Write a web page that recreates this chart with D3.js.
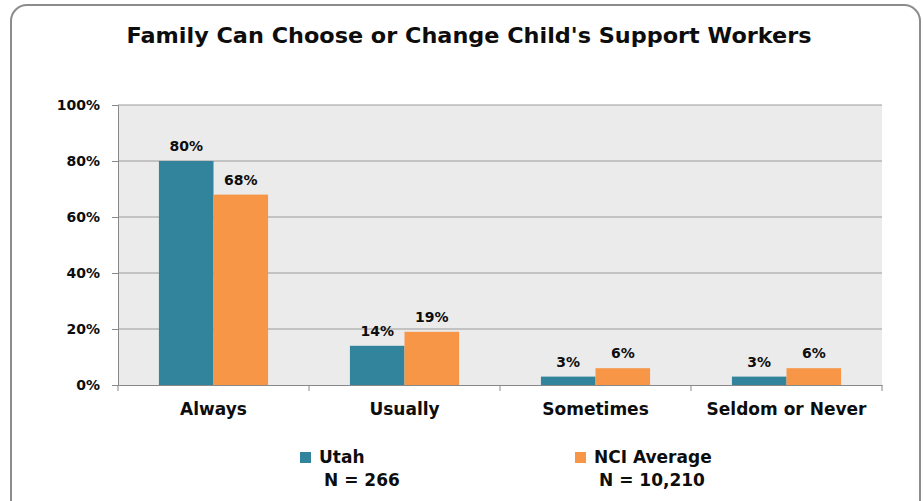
<!DOCTYPE html>
<html><head><meta charset="utf-8">
<script src="https://cdn.jsdelivr.net/npm/d3@7"></script>
<style>body{margin:0;background:#fff}svg{display:block}</style>
</head><body>
<script>
const categories = ["Always", "Usually", "Sometimes", "Seldom or Never"];
const seriesNames = ["Utah", "NCI Average"];
const seriesN = ["N = 266", "N = 10,210"];
const utah = [80, 14, 3, 3];
const nci = [68, 19, 6, 6];
const yTicks = [0, 20, 40, 60, 80, 100];
const colors = ["#31849B", "#F79646"];
const title = "Family Can Choose or Change Child's Support Workers";

(function () {
const W = 923, H = 501;
const font = "'DejaVu Sans', sans-serif";
const ink = "#0d0d0d";
const svg = d3.select("body").append("svg").attr("width", W).attr("height", H);

svg.append("rect").attr("x", 11).attr("y", 5).attr("width", 909).attr("height", 520)
  .attr("rx", 16).attr("fill", "#fff").attr("stroke", "#8c8c8c").attr("stroke-width", 2);

svg.append("text").attr("x", 469).attr("y", 43).attr("text-anchor", "middle")
  .attr("font-family", font).attr("font-weight", "bold").attr("font-size", 21)
  .attr("textLength", 685).attr("lengthAdjust", "spacingAndGlyphs")
  .attr("fill", ink).text(title);

const mL = 118, mR = 882, mT = 105, mB = 385;
const x = d3.scaleBand().domain(categories).range([mL, mR]).paddingInner(0).paddingOuter(0);
const inner = d3.scaleBand().domain(seriesNames).range([0, x.bandwidth()]).paddingOuter(0.75).paddingInner(0);
const y = d3.scaleLinear().domain([0, 100]).range([mB, mT]);

svg.append("rect").attr("x", mL).attr("y", mT).attr("width", mR - mL).attr("height", mB - mT).attr("fill", "#ebebeb");

svg.append("g").selectAll("line").data(yTicks.filter(d => d > 0)).join("line")
  .attr("x1", mL).attr("x2", mR).attr("y1", d => y(d)).attr("y2", d => y(d))
  .attr("stroke", "#9a9a9a").attr("stroke-width", 1);

const yAxis = svg.append("g").attr("transform", `translate(${mL},0)`)
  .call(d3.axisLeft(y).tickValues(yTicks).tickFormat(d => d + "%").tickSize(6).tickPadding(12));
yAxis.select(".domain").attr("stroke", "#888");
yAxis.selectAll(".tick line").attr("stroke", "#888");
yAxis.selectAll("text").attr("font-family", font).attr("font-weight", "bold").attr("font-size", 14).attr("fill", ink);

const xAxis = svg.append("g").attr("transform", `translate(0,${mB})`)
  .call(d3.axisBottom(x).tickSize(0).tickPadding(18));
xAxis.select(".domain").attr("stroke", "#888");
xAxis.selectAll("text").attr("font-family", font).attr("font-weight", "bold").attr("font-size", 17).attr("fill", ink);
svg.append("g").selectAll("line").data(d3.range(categories.length + 1)).join("line")
  .attr("x1", i => mL + i * x.bandwidth()).attr("x2", i => mL + i * x.bandwidth())
  .attr("y1", mB).attr("y2", mB + 6).attr("stroke", "#888");

const data = [];
categories.forEach((c, i) => {
  data.push({c, s: seriesNames[0], v: utah[i], k: 0});
  data.push({c, s: seriesNames[1], v: nci[i], k: 1});
});
svg.append("g").selectAll("rect").data(data).join("rect")
  .attr("x", d => x(d.c) + inner(d.s)).attr("width", inner.bandwidth())
  .attr("y", d => y(d.v)).attr("height", d => mB - y(d.v))
  .attr("fill", d => colors[d.k]);
svg.append("g").selectAll("text").data(data).join("text")
  .attr("x", d => x(d.c) + inner(d.s) + inner.bandwidth() / 2)
  .attr("y", d => y(d.v) - 10).attr("text-anchor", "middle")
  .attr("font-family", font).attr("font-weight", "bold").attr("font-size", 14).attr("fill", ink)
  .text(d => d.v + "%");

const legX = [300, 575];
const lg = svg.append("g").selectAll("g").data(seriesNames).join("g");
lg.append("rect").attr("x", (d, i) => legX[i]).attr("y", 452).attr("width", 11).attr("height", 11)
  .attr("fill", (d, i) => colors[i]);
lg.append("text").attr("x", (d, i) => legX[i] + 19).attr("y", 463)
  .attr("font-family", font).attr("font-weight", "bold").attr("font-size", 17).attr("fill", ink).text(d => d);
lg.append("text").attr("x", (d, i) => legX[i] + 24).attr("y", 486)
  .attr("font-family", font).attr("font-weight", "bold").attr("font-size", 17).attr("fill", ink).text((d, i) => seriesN[i]);
})();
</script>
</body></html>
